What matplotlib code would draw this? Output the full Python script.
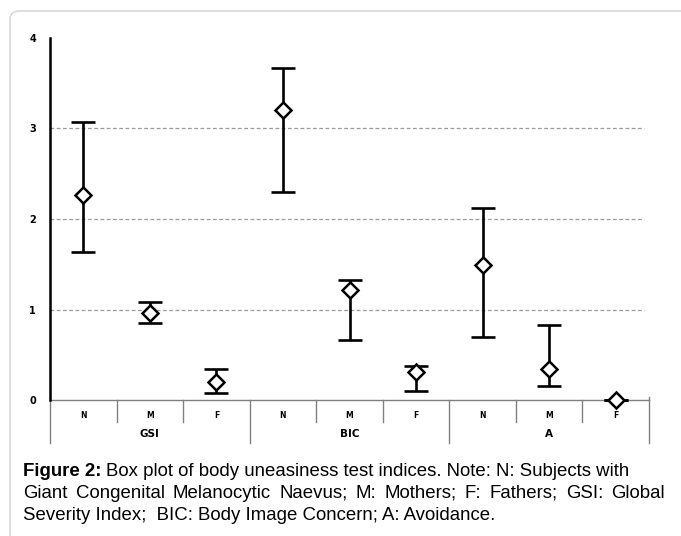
import numpy as np
import matplotlib.pyplot as plt
from matplotlib.patches import FancyBboxPatch
from matplotlib.transforms import blended_transform_factory

# data
groups = ['GSI', 'BIC', 'A']
subgroups = ['N', 'M', 'F']
mid = [2.27, 0.96, 0.20, 3.20, 1.21, 0.31, 1.49, 0.34, 0.0]
upper = [3.07, 1.08, 0.34, 3.67, 1.33, 0.38, 2.12, 0.83, 0.0]
lower = [1.64, 0.85, 0.08, 2.30, 0.66, 0.10, 0.70, 0.16, 0.0]
yticks = [0, 1, 2, 3, 4]

W, H = 681, 536
fig = plt.figure(figsize=(W / 100, H / 100), dpi=100)

# rounded frame around the figure
frame = FancyBboxPatch((10 / W, -0.05), 1.1, 0.9795 + 0.05,
                       boxstyle='round,pad=0,rounding_size=0.015',
                       transform=fig.transFigure, facecolor='none',
                       edgecolor='#d9d9d9', linewidth=1.2, zorder=-1)
fig.patches.append(frame)

ax = fig.add_axes([50 / W, (H - 400) / H, 599 / W, 362 / H])
ax.set_facecolor('none')

x = np.arange(len(mid))
mid_a = np.array(mid)
yerr = np.vstack([mid_a - np.array(lower), np.array(upper) - mid_a])
eb = ax.errorbar(x, mid_a, yerr=yerr, fmt='none', ecolor='black', elinewidth=1.9,
                 capsize=8.6, capthick=1.9, zorder=3)
for art in eb.lines[1] + eb.lines[2]:
    art.set_clip_on(False)
    art.set_zorder(3.5)
ax.plot(x, mid_a, linestyle='none', marker='D', markersize=8.5,
        markerfacecolor='white', markeredgecolor='black', markeredgewidth=1.8,
        zorder=4, clip_on=False)

ax.set_xlim(-0.5, len(mid) - 0.5)
ax.set_ylim(0, 4)

# dashed grid
for v in yticks[1:4]:
    ax.plot([-0.5, len(mid) - 0.58], [v, v], color='#9a9a9a', lw=0.9,
            ls=(0, (3, 2)), zorder=1)

for s in ['top', 'right']:
    ax.spines[s].set_visible(False)
ax.spines['left'].set_color('black')
ax.spines['left'].set_linewidth(1.8)
ax.spines['bottom'].set_color('#808080')
ax.spines['bottom'].set_linewidth(1.0)
ax.spines['bottom'].set_zorder(2)

ax.set_yticks(yticks)
ax.set_yticklabels([str(v) for v in yticks], fontsize=7, fontweight='bold',
                   family='DejaVu Sans')
ax.tick_params(axis='y', length=0, pad=10)

ax.set_xticks(x)
ax.set_xticklabels(subgroups * len(groups), fontsize=5.5, fontweight='bold',
                   family='DejaVu Sans')
ax.tick_params(axis='x', length=0, pad=8)

# separators under the axis
trans = blended_transform_factory(ax.transData, ax.transAxes)
for i in range(len(mid) + 1):
    b = i - 0.5
    depth = -0.118 if i % 3 == 0 else -0.06
    ax.plot([b, b], [0, depth], color='#808080', lw=1.0, transform=trans,
            clip_on=False)
ax.plot([len(mid) - 0.5] * 2, [0, 0.008], color='#808080', lw=1.0,
        transform=trans, clip_on=False)
for g, name in enumerate(groups):
    ax.text(g * 3 + 1, -0.095, name, transform=trans, ha='center', va='center',
            fontsize=7.5, fontweight='bold', family='DejaVu Sans')

# caption
cap_font = dict(family='Liberation Sans', fontsize=13.4)
y1, y2, y3 = 476, 498, 520
t = fig.text(23 / W, 1 - y1 / H, 'Figure 2:', fontweight='bold', va='baseline',
             **cap_font)
fig.canvas.draw()
r = fig.canvas.get_renderer()
bb = t.get_window_extent(r)
fig.text((bb.x1 + 4) / W, 1 - y1 / H,
         'Box plot of body uneasiness test indices. Note: N: Subjects with',
         va='baseline', **cap_font)

# justified second line
words = 'Giant Congenital Melanocytic Naevus; M: Mothers; F: Fathers; GSI: Global'.split()
items = [fig.text(0, 1 - y2 / H, w_, va='baseline', **cap_font) for w_ in words]
widths = [it.get_window_extent(r).width for it in items]
gap = (665 - 23 - sum(widths)) / (len(words) - 1)
xp = 23
for it, wd in zip(items, widths):
    it.set_x(xp / W)
    xp += wd + gap

fig.text(23 / W, 1 - y3 / H,
         'Severity Index;  BIC: Body Image Concern; A: Avoidance.',
         va='baseline', **cap_font)

fig.savefig('out.png', dpi=100)
